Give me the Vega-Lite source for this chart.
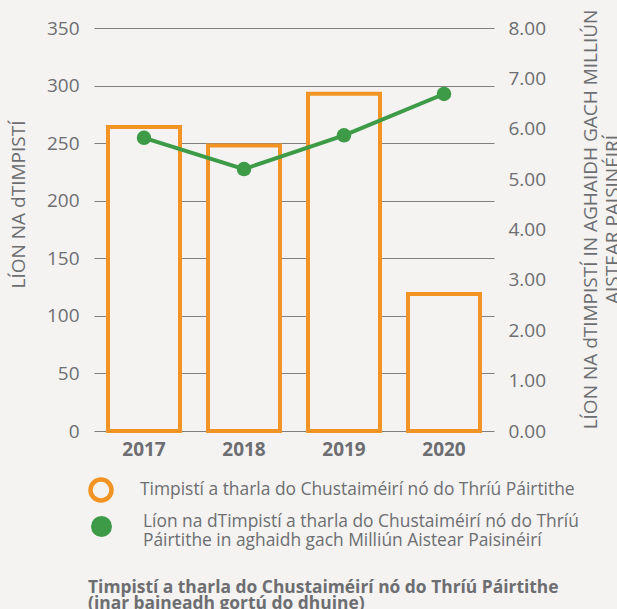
{
  "$schema": "https://vega.github.io/schema/vega-lite/v6.json",
  "width": 400,
  "height": 403,
  "autosize": {"type": "none"},
  "padding": {"left": 94, "top": 28, "right": 123, "bottom": 178},
  "background": "#f4f3f2",
  "config": {
    "view": {"stroke": null},
    "font": "Open Sans",
    "axis": {"labelFont": "Open Sans", "titleFont": "Open Sans", "labelColor": "#6d6e71", "titleColor": "#6d6e71"},
    "legend": {"labelFont": "Open Sans", "labelColor": "#6d6e71", "labelFontSize": 17.4, "labelLimit": 600, "symbolType": "circle", "symbolSize": 441, "direction": "vertical"}
  },
  "title": {
    "text": ["Timpistí a tharla do Chustaiméirí nó do Thríú Páirtithe", "(inar baineadh gortú do dhuine)"],
    "orient": "bottom",
    "anchor": "start",
    "frame": "group",
    "font": "Open Sans",
    "fontSize": 17.4,
    "fontWeight": "bold",
    "color": "#6d6e71",
    "lineHeight": 16,
    "dx": -6,
    "offset": 29
  },
  "data": {
    "values": [
      {"year": "2017", "count": 264, "rate": 5.82},
      {"year": "2018", "count": 248, "rate": 5.2},
      {"year": "2019", "count": 293, "rate": 5.87},
      {"year": "2020", "count": 119, "rate": 6.69}
    ]
  },
  "encoding": {
    "x": {
      "field": "year",
      "type": "nominal",
      "scale": {"paddingInner": 0.28, "paddingOuter": 0.14},
      "axis": {"title": null, "labelAngle": 0, "labelFontSize": 19, "labelFontWeight": "bold", "domain": false, "ticks": false, "labelPadding": 9}
    }
  },
  "layer": [
    {
      "mark": {"type": "bar", "fill": "#f4f3f2", "strokeWidth": 4},
      "encoding": {
        "y": {
          "field": "count",
          "type": "quantitative",
          "scale": {"domain": [0, 350], "nice": false},
          "axis": {
            "title": "LÍON NA dTIMPISTÍ",
            "titleFontSize": 19,
            "titleFontWeight": "normal",
            "titlePadding": 18,
            "titleY": 176,
            "values": [0, 50, 100, 150, 200, 250, 300, 350],
            "labelFontSize": 19,
            "labelPadding": 15,
            "domain": false,
            "ticks": false,
            "grid": true,
            "gridColor": "#7f7f7f",
            "gridWidth": 1.2
          }
        },
        "stroke": {
          "datum": "Timpistí a tharla do Chustaiméirí nó do Thríú Páirtithe",
          "type": "nominal",
          "scale": {"range": ["#f29423"]},
          "legend": {
            "title": null,
            "orient": "none",
            "legendX": -6,
            "legendY": 449,
            "symbolFillColor": "#ffffff",
            "symbolStrokeWidth": 4.5,
            "labelOffset": 26,
            "labelBaseline": "middle"
          }
        }
      }
    },
    {
      "mark": {"type": "line", "strokeWidth": 4, "color": "#3d9b47"},
      "encoding": {
        "y": {
          "field": "rate",
          "type": "quantitative",
          "scale": {"domain": [0, 8], "nice": false},
          "axis": {
            "orient": "right",
            "title": ["LÍON NA dTIMPISTÍ IN AGHAIDH GACH MILLIÚN", "AISTEAR PAISINÉIRÍ"],
            "titleFontSize": 19,
            "titleFontWeight": "normal",
            "titleAngle": -90,
            "titlePadding": 33,
            "titleLineHeight": 22,
            "titleY": 191,
            "values": [0, 1, 2, 3, 4, 5, 6, 7, 8],
            "format": ".2f",
            "labelFontSize": 19,
            "labelPadding": 14,
            "domain": false,
            "ticks": false,
            "grid": false
          }
        }
      }
    },
    {
      "mark": {"type": "circle", "size": 210, "opacity": 1},
      "encoding": {
        "y": {"field": "rate", "type": "quantitative", "scale": {"domain": [0, 8], "nice": false}, "axis": null},
        "color": {
          "datum": "Líon na dTimpistí a tharla do Chustaiméirí nó do Thríú Páirtithe in aghaidh gach Milliún Aistear Paisinéirí",
          "type": "nominal",
          "scale": {"range": ["#3d9b47"]},
          "legend": {
            "title": null,
            "orient": "none",
            "legendX": -4,
            "legendY": 487,
            "labelOffset": 30,
            "labelBaseline": "alphabetic",
            "labelExpr": "['Líon na dTimpistí a tharla do Chustaiméirí nó do Thríú', 'Páirtithe in aghaidh gach Milliún Aistear Paisinéirí']"
          }
        }
      }
    }
  ],
  "resolve": {"scale": {"y": "independent"}}
}
